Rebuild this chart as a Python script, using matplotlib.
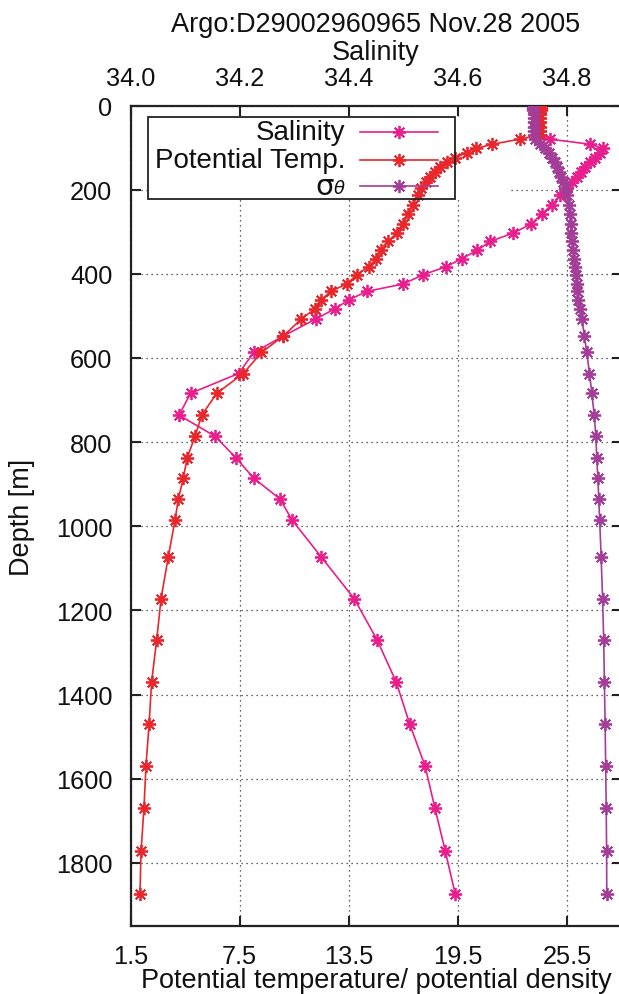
from matplotlib import pyplot as plt
from matplotlib.patches import Rectangle
from matplotlib.lines import Line2D

plt.rcParams['font.family'] = ['Liberation Sans', 'DejaVu Sans']

# profile levels [m]
depth = [5, 10, 20, 30, 40, 50, 60, 70,
         80, 92, 102, 112, 124, 135, 147, 158, 170, 182,
         196, 212, 236, 257, 281, 303, 323, 344, 364, 383,
         402, 424, 442, 462, 483, 507, 548, 587, 637, 684,
         736, 786, 837, 886, 935, 985, 1072, 1172, 1270, 1370,
         1471, 1570, 1670, 1772, 1873]

salinity = [34.742, 34.742, 34.742, 34.743, 34.743, 34.743, 34.744, 34.745,
            34.769, 34.842, 34.867, 34.860, 34.852, 34.842, 34.833, 34.826, 34.818, 34.809,
            34.800, 34.788, 34.773, 34.754, 34.735, 34.702, 34.659, 34.636, 34.607, 34.579,
            34.537, 34.500, 34.433, 34.400, 34.375, 34.340, 34.280, 34.226, 34.198, 34.110,
            34.089, 34.155, 34.193, 34.226, 34.274, 34.296, 34.349, 34.410, 34.452, 34.487,
            34.512, 34.540, 34.558, 34.577, 34.595]

pot_temp = [24.05, 24.05, 24.04, 24.04, 24.03, 24.03, 24.02, 24.00,
            22.9, 21.4, 20.5, 20.0, 19.35, 18.9, 18.5, 18.25, 17.97, 17.75,
            17.5, 17.3, 17.04, 16.77, 16.5, 16.15, 15.67, 15.3, 15.0, 14.6,
            13.95, 13.4, 12.5, 12.0, 11.65, 10.9, 9.9, 8.7, 7.7, 6.24,
            5.42, 5.05, 4.62, 4.4, 4.13, 3.95, 3.58, 3.18, 2.94, 2.66,
            2.52, 2.35, 2.24, 2.08, 2.02]

sigma_theta = [23.66, 23.66, 23.67, 23.67, 23.68, 23.68, 23.69, 23.70,
               23.75, 24.03, 24.30, 24.52, 24.68, 24.85, 24.96, 25.07, 25.18, 25.29,
               25.40, 25.51, 25.59, 25.65, 25.70, 25.73, 25.78, 25.84, 25.87, 25.92,
               25.98, 26.03, 26.08, 26.13, 26.22, 26.32, 26.46, 26.59, 26.74, 26.87,
               27.00, 27.09, 27.14, 27.20, 27.25, 27.30, 27.38, 27.46, 27.52, 27.56,
               27.60, 27.63, 27.66, 27.68, 27.69]

sal_ticks = [34.0, 34.2, 34.4, 34.6, 34.8]
temp_ticks = [1.5, 7.5, 13.5, 19.5, 25.5]
depth_ticks = [0, 200, 400, 600, 800, 1000, 1200, 1400, 1600, 1800]

c_sal = '#e91e8c'
c_temp = '#e8262b'
c_sig = '#a43d98'
star = (8, 2, 0)
fs_tick = 18.3
fs = 19.5
frame = '#222222'
ink = '#111111'

fig = plt.figure(figsize=(6.19, 9.95), dpi=100)
# host axes carries salinity (top scale) and the grid
ax = fig.add_axes([130.5 / 619, 68 / 995, 491 / 619, 820.5 / 995])
ax.set_xlim(34.0, 34.9)
ax.set_ylim(1950, 0)
ax.set_yticks(depth_ticks)
ax.set_axisbelow(True)
ax.grid(True, linestyle=(0, (1, 3)), linewidth=0.9, color='#333333')
for s in ax.spines.values():
    s.set_linewidth(1.6)
    s.set_color(frame)

# key area hides the grid behind it
ax.add_patch(Rectangle((17.5 / 491, (927 - 200) / 820.5), 360 / 491, 82 / 820.5,
                       transform=ax.transAxes, facecolor='white', edgecolor='none',
                       zorder=1))

ax.plot(salinity, depth, color=c_sal, lw=1.2, marker=star, ms=9.5, mew=1.3, zorder=3)

# twin for potential temperature / density on the bottom scale
ax_t = ax.twiny()
ax_t.set_xlim(1.5, 28.5)
ax_t.xaxis.tick_bottom()
ax_t.xaxis.set_label_position('bottom')
ax_t.set_xticks(temp_ticks)
ax_t.set_xticklabels(['%.1f' % t for t in temp_ticks])
ax_t.tick_params(axis='x', direction='in', length=7.5, width=1.5, color=frame,
                 labelsize=fs_tick, labelcolor=ink, pad=13)
for s in ax_t.spines.values():
    s.set_visible(False)

# salinity ticks back on top (twiny moves them down)
ax.xaxis.tick_top()
ax.xaxis.set_label_position('top')
ax.set_xticks(sal_ticks)
ax.set_xticklabels(['%.1f' % t for t in sal_ticks])
ax.tick_params(axis='x', direction='in', length=7.5, width=1.5, color=frame,
               labelsize=fs_tick, labelcolor=ink, pad=11)
ax.tick_params(axis='y', direction='in', length=7.5, width=1.5, color=frame,
               labelsize=fs_tick, labelcolor=ink, right=True, pad=13)

ax_t.plot(pot_temp, depth, color=c_temp, lw=1.2, marker=star, ms=9.5, mew=1.3, zorder=3)
ax_t.plot(sigma_theta, depth, color=c_sig, lw=1.2, marker=star, ms=9.5, mew=1.3, zorder=4)

# key
ax_t.add_patch(Rectangle((17.5 / 491, (927 - 200) / 820.5), 307 / 491, 82 / 820.5,
                         transform=ax_t.transAxes, facecolor='none', edgecolor=frame,
                         lw=1.3, zorder=5))
rows = [('Salinity', c_sal, 133), ('Potential Temp.', c_temp, 161), (None, c_sig, 187)]
tx = (345 - 130.5) / 491
for label, col, ypx in rows:
    yf = (927 - ypx) / 820.5
    ax_t.add_line(Line2D([(360 - 130.5) / 491, (438 - 130.5) / 491], [yf, yf],
                         transform=ax_t.transAxes, color=col, lw=1.2, zorder=6))
    ax_t.add_line(Line2D([(399 - 130.5) / 491], [yf], transform=ax_t.transAxes,
                         color=col, marker=star, ms=9.5, mew=1.3, zorder=6))
    if label:
        ax_t.text(tx, yf, label, transform=ax_t.transAxes, ha='right', va='center',
                  fontsize=20, color=ink)
    else:
        ax_t.text(tx, yf - 0.003, '\u03b8', transform=ax_t.transAxes, ha='right',
                  va='center', fontsize=13, style='italic', color=ink,
                  family=['DejaVu Sans'])
        ax_t.text(tx - 11 / 491, yf, '\u03c3', transform=ax_t.transAxes, ha='right',
                  va='center', fontsize=21, color=ink, family=['DejaVu Sans'])

fig.text(376 / 619, 1 - 32 / 995, 'Argo:D29002960965 Nov.28 2005', ha='center',
         va='baseline', fontsize=fs, color=ink)
fig.text(376 / 619, 1 - 60 / 995, 'Salinity', ha='center', va='baseline',
         fontsize=fs, color=ink)
fig.text(376 / 619, 1 - 988 / 995, 'Potential temperature/ potential density',
         ha='center', va='baseline', fontsize=fs, color=ink)
fig.text(22 / 619, 1 - 517 / 995, 'Depth [m]', ha='center', va='center',
         rotation=90, fontsize=fs, color=ink)

plt.savefig('out.png', dpi=100)
